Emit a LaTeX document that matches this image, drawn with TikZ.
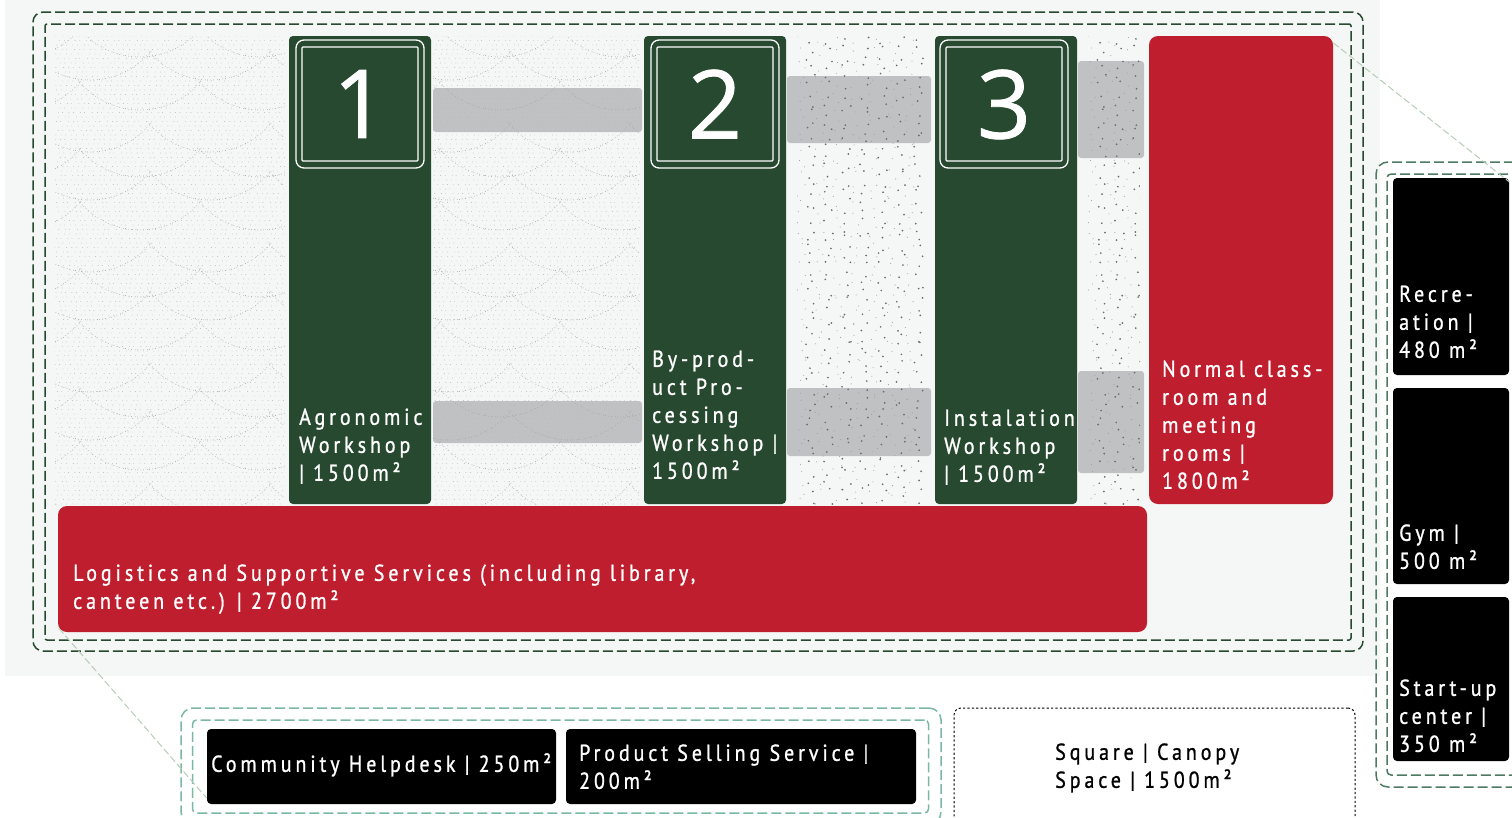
\documentclass[tikz,border=0pt]{standalone}
\usepackage{fontspec}
\usetikzlibrary{calc}
\setmainfont{PT Sans}[LetterSpace=17,FakeStretch=0.87,FakeBold=1.0]
\newfontfamily\numfont{Open Sans}[FakeBold=0.8]
\definecolor{bgc}{HTML}{F5F7F6}
\definecolor{dkgreen}{HTML}{27492F}
\definecolor{redc}{HTML}{BE1E2D}
\definecolor{greyc}{HTML}{C0C1C3}
\definecolor{midgreen}{HTML}{4F7A62}
\definecolor{teal}{HTML}{7AB8A4}
\definecolor{leader}{HTML}{B5CDB8}
\newcommand{\speckrow}[3]{% x origin, number of columns minus 1, row
  \fill[black!38] foreach \c in {0,2,...,#2} {
    ({#1+9*(\c+mod(abs(sin(mod((#3*14+\c)*17.13,360))*9973.7),1))},{36+9*(#3+mod(abs(sin(mod((#3*14+\c)*13.71,360))*7919.3),1))}) circle (0.55) };
  \fill[black!58] foreach \c in {1,3,...,#2} {
    ({#1+9*(\c+mod(abs(sin(mod((#3*14+\c)*17.13,360))*9973.7),1))},{36+9*(#3+mod(abs(sin(mod((#3*14+\c)*13.71,360))*7919.3),1))}) circle (0.95) };
}
\tikzset{
  solidbox/.style={rectangle,inner sep=0pt,draw=none,rounded corners=#1},
  solidbox/.default=4pt,
  wall/.style={solidbox=4pt,fill=dkgreen},
  path1/.style={solidbox=3pt,fill=greyc},
  redbox/.style={solidbox=9pt,fill=redc},
  blackbox/.style={solidbox=4pt,fill=black},
  dashbox/.style={rectangle,inner sep=0pt,line width=1.5pt,dash pattern=on 10pt off 4pt},
  framea/.style={rectangle,inner sep=0pt,draw=white,line width=1.3pt,rounded corners=8pt,minimum width=128pt,minimum height=128pt,text=white,font=\numfont\fontsize{95}{95}\selectfont,text depth=0pt},
  frameb/.style={rectangle,inner sep=0pt,draw=white,line width=1.3pt,rounded corners=1pt,minimum width=116pt,minimum height=114pt},
  lab/.style={anchor=south west,inner sep=0pt,align=left,text depth=0pt,text=white,font=\fontsize{23}{28}\selectfont},
  leaderline/.style={draw=leader,line width=1pt,dash pattern=on 7pt off 3pt},
  sz/.style 2 args={minimum width=#1pt,minimum height=#2pt},
  finedots/.style={line width=0.85pt,line cap=round,black!27,
    dash pattern=on 0pt off 4.7pt on 0pt off 6.9pt on 0pt off 3.9pt on 0pt off 7.7pt on 0pt off 5.3pt on 0pt off 4.3pt on 0pt off 6.3pt},
  arcdots/.style={line width=0.9pt,line cap=round,black!36,
    dash pattern=on 0pt off 2.7pt on 0pt off 3.9pt on 0pt off 2.1pt on 0pt off 3.3pt},
}
\begin{document}
\begin{tikzpicture}[x=1pt,y=-1pt]
\useasboundingbox (0,0) rectangle (1512,817);
\clip (0,0) rectangle (1512,817);
\node[rectangle,inner sep=0pt,fill=bgc,sz={1375}{676}] (bg) at (692.5,338) {};

% grey connecting passages
\node[path1,sz={209}{44}] (g1) at (537.5,110) {};
\node[path1,sz={209}{42}] (g2) at (537.5,422) {};
\node[path1,sz={144}{67}] (g3) at (859,109.5) {};
\node[path1,sz={144}{68}] (g4) at (859,422) {};
\node[path1,sz={66}{97}] (g5) at (1111,109.5) {};
\node[path1,sz={66}{102}] (g6) at (1111,422) {};

% scale texture
\begin{scope}
\clip (55,36) rectangle (285,505) (433,36) rectangle (640,505);
\foreach \r in {0,...,52}{
  \pgfmathsetmacro{\sft}{mod(\r*37.3,31)}
  \pgfmathsetmacro{\ry}{36+\r*9}
  \draw[finedots] (40-\sft,\ry) -- (650,\ry);
  \pgfmathsetmacro{\ryb}{36+\r*9+4.5}
  \pgfmathsetmacro{\sftb}{mod(\r*23.9,37)}
  \draw[finedots] (36-\sftb,\ryb) -- (650,\ryb);
}
\foreach \k in {0,...,3}{
  \foreach \bot/\ccx in {57/140,80/90,110/140,152/90}{
    \foreach \c in {-1,...,5}{
      \pgfmathsetmacro{\cx}{\ccx+\c*120}
      \pgfmathsetmacro{\cy}{\bot+\k*120}
      \draw[arcdots] (\cx-62,\cy-30) .. controls (\cx-30,\cy+10) and (\cx+30,\cy+10) .. (\cx+62,\cy-30);
    }
  }
}
\end{scope}
% speckle texture (jittered grid)
\begin{scope}
\clip (797,36) rectangle (925,505) (1088,36) rectangle (1140,505);
\foreach \r in {0,...,51}{
  \speckrow{797}{13}{\r}
  \speckrow{1088}{5}{\r}
}
\end{scope}

% dashed enclosures
\node[dashbox,draw=dkgreen,rounded corners=10pt,sz={1330}{639}] (oa) at (698,331.5) {};
\node[dashbox,draw=dkgreen,rounded corners=2pt,sz={1306}{616}] (ob) at (698,332) {};
\node[dashbox,draw=teal,rounded corners=12pt,sz={760}{116}] (ga) at (561,766) {};
\node[dashbox,draw=teal,rounded corners=4pt,sz={736}{93}] (gb) at (560.5,766.5) {};
\node[dashbox,draw=midgreen,rounded corners=12pt,sz={164}{625}] (ra) at (1458,474.5) {};
\node[dashbox,draw=midgreen,rounded corners=4pt,sz={153}{601}] (rb) at (1463.5,474.5) {};
\node[rectangle,inner sep=0pt,draw=black,line width=1pt,dash pattern=on 2.2pt off 2.2pt,rounded corners=7pt,sz={401}{132}] (sq) at (1154.5,774) {};

% workshops
\node[wall,sz={142}{468}] (w1) at (360,270) {};
\node[wall,sz={142}{468}] (w2) at (715,270) {};
\node[wall,sz={142}{468}] (w3) at (1006,270) {};
\node[framea] (f1) at (360,104) {1};
\node[frameb] (i1) at (360,104) {};
\node[framea] (f2) at (715,104) {2};
\node[frameb] (i2) at (715,104) {};
\node[framea] (f3) at (1004,104) {3};
\node[frameb] (i3) at (1004,104) {};

% red blocks
\node[redbox,sz={184}{468}] (r1) at (1241,270) {};
\node[redbox,sz={1089}{126}] (r2) at (602.5,569) {};

% black blocks
\node[blackbox,sz={349}{75}] (k1) at (381.5,766.5) {};
\node[blackbox,sz={350}{75}] (k2) at (741,766.5) {};
\node[blackbox,sz={116}{197}] (k3) at (1451,276.5) {};
\node[blackbox,sz={116}{196}] (k4) at (1451,486) {};
\node[blackbox,sz={116}{164}] (k5) at (1451,679) {};

% leaders
\draw[leaderline] ($(r1.north east)+(0,7)$) -- ($(k3.north east)+(0,4)$);
\draw[leaderline] ($(r2.south west)+(1,-4)$) -- ($(k1.south west)+(0,-6)$);

% labels
\node[lab] (t1) at (299,481) {Agronomic\\Workshop\\| 1500m²};
\node[lab] (t2) at (652,479) {By-prod-\\uct Pro-\\cessing\\Workshop |\\1500m²};
\node[lab] (t3) at (944,482) {Instalation\\Workshop\\| 1500m²};
\node[lab] (t4) at (1162,489) {Normal class-\\room and\\meeting\\rooms |\\1800m²};
\node[lab] (t5) at (73,609) {Logistics and Supportive Services (including library,\\canteen etc.) | 2700m²};
\node[lab] (t6) at (211,772) {Community Helpdesk | 250m²};
\node[lab] (t7) at (579,789) {Product Selling Service |\\200m²};
\node[lab,text=black] (t8) at (1055,788) {Square | Canopy\\Space | 1500m²};
\node[lab] (t9) at (1399,358) {Recre-\\ation |\\480 m²};
\node[lab] (t10) at (1399,569) {Gym |\\500 m²};
\node[lab] (t11) at (1399,752) {Start-up\\center |\\350 m²};
\end{tikzpicture}
\end{document}
